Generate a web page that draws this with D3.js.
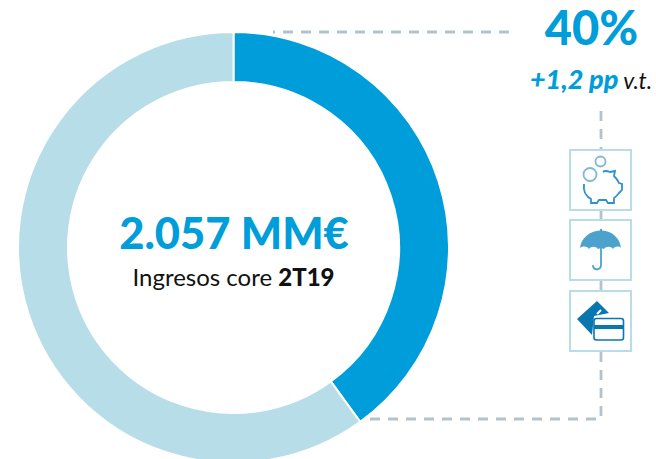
<!DOCTYPE html>
<html>
<head>
<meta charset="utf-8">
<script src="https://cdn.jsdelivr.net/npm/d3@7"></script>
<style>
  html, body { margin: 0; padding: 0; background: #fff; overflow: hidden; }
  text { font-family: Lato, sans-serif; }
</style>
</head>
<body>
<div class="center"></div>
<script>
// chart data
var segments = ["Resto", "Core"];
var shares = [60, 40];
var segmentColours = ["#b7dde9", "#009ddb"];

// texts
var totalLabel = "2.057 MM€";
var captionLabel = "Ingresos core ";
var periodLabel = "2T19";
var shareLabel = "40%";
var deltaLabel = "+1,2 pp";
var deltaSuffix = " v.t.";

var width = 656, height = 459;
var cx = 233.5, cy = 247.5, outer = 215.5, inner = 165.5;
var blue = "#009ddb", dash = "#b4c3cb", frame = "#b7dde9", iconBlue = "#2f94c4";

var svg = d3.select(".center").append("svg")
    .attr("width", width)
    .attr("height", height)
    .style("display", "block");

// connector lines go under the ring
var connectors = svg.append("g")
    .attr("fill", "none")
    .attr("stroke", dash)
    .attr("stroke-width", 2.8)
    .attr("stroke-dasharray", "10 8");

connectors.append("path").attr("d", "M509,32 H273");
connectors.append("path").attr("d", "M601,111 V150");
connectors.append("path").attr("d", "M601,211 V220");
connectors.append("path").attr("d", "M601,281 V290");
connectors.append("path").attr("d", "M601,352 V419 H361");

// donut, clockwise from 12 o'clock with the blue slice first
var pie = d3.pie()
    .sort(null)
    .value(function(d) { return d.value; });

var arc = d3.arc()
    .innerRadius(inner)
    .outerRadius(outer);

var rows = [
  {name: segments[1], value: shares[1], colour: segmentColours[1]},
  {name: segments[0], value: shares[0], colour: segmentColours[0]}
];

svg.append("g")
    .attr("transform", "translate(" + cx + "," + cy + ")")
    .selectAll("path")
    .data(pie(rows))
    .enter().append("path")
    .attr("d", arc)
    .attr("fill", function(d) { return d.data.colour; })
    .attr("stroke", "#fff")
    .attr("stroke-width", 2);

// centre labels
svg.append("text")
    .attr("x", cx + 0.5)
    .attr("y", 249)
    .attr("text-anchor", "middle")
    .style("font-size", "43.5px")
    .style("font-weight", "900")
    .style("fill", blue)
    .text(totalLabel);

var caption = svg.append("text")
    .attr("x", cx)
    .attr("y", 286)
    .attr("text-anchor", "middle")
    .style("font-size", "24px")
    .style("fill", "#111");
caption.append("tspan").text(captionLabel);
caption.append("tspan").style("font-weight", "900").text(periodLabel);

// top right labels
svg.append("text")
    .attr("x", 591.5)
    .attr("y", 45)
    .attr("text-anchor", "middle")
    .style("font-size", "47px")
    .style("font-weight", "900")
    .style("fill", blue)
    .text(shareLabel);

var delta = svg.append("text")
    .attr("x", 591)
    .attr("y", 89)
    .attr("text-anchor", "middle")
    .style("font-size", "27px")
    .style("font-style", "italic");
delta.append("tspan").style("font-weight", "900").style("fill", blue).text(deltaLabel);
delta.append("tspan").style("font-size", "23px").style("fill", "#111").text(deltaSuffix);

// icon frames
var frames = [150, 220, 291];
svg.selectAll("rect.frame")
    .data(frames)
    .enter().append("rect")
    .attr("class", "frame")
    .attr("x", 570)
    .attr("y", function(d) { return d; })
    .attr("width", 61)
    .attr("height", 60)
    .attr("fill", "#fff")
    .attr("stroke", frame)
    .attr("stroke-width", 2);

// piggy bank
var pig = svg.append("g").attr("fill", "none").attr("stroke-width", 1.8);
pig.append("circle").attr("cx", 600.5).attr("cy", 161.5).attr("r", 5).attr("stroke", "#7fb9d6");
pig.append("circle").attr("cx", 590).attr("cy", 174.5).attr("r", 6.5).attr("stroke", "#7fb9d6");
pig.append("path")
    .attr("stroke", iconBlue)
    .attr("d", "M584,184 C583,192 587,197 591,199 L591,203 L597,203 L599,200 L606,200 L608,203 L614,203 L614,198 C617,196 618,194 620,192 L622,190 L622,184 L619,183 C618,180 616,178 614,176 L615,171 L610,172 C607,171 605,170 603,172");

// umbrella
var umbrella = svg.append("g");
umbrella.append("path")
    .attr("fill", "#4ba3cd")
    .attr("d", "M580,248 C581,238 590,231 600,230.5 L600,229 L602,229 L602,230.5 C612,231 620,238 621,248 C619,246 615,246 613,249 C611,246 606,246 604,249 L601,248 L598,249 C596,246 591,246 589,249 C587,246 583,246 580,248 Z");
umbrella.append("path")
    .attr("fill", "none")
    .attr("stroke", "#4ba3cd")
    .attr("stroke-width", 1.8)
    .attr("stroke-linecap", "round")
    .attr("d", "M601,248 V265 C601,270 594,271 593,266");

// cards
var cards = svg.append("g");
cards.append("path")
    .attr("fill", "#0a76b0")
    .attr("d", "M577,319 L597,301 L609,313 L594,316 L592,335 Z");
cards.append("path")
    .attr("stroke", "#fff")
    .attr("stroke-width", 2)
    .attr("d", "M597,314 L601,310");
cards.append("rect")
    .attr("x", 594).attr("y", 318.5).attr("width", 29.5).attr("height", 21.5).attr("rx", 2.5)
    .attr("fill", "#fff").attr("stroke", "#0a76b0").attr("stroke-width", 1.6);
cards.append("rect")
    .attr("x", 594).attr("y", 325).attr("width", 29.5).attr("height", 4)
    .attr("fill", "#0a76b0");
</script>
</body>
</html>
